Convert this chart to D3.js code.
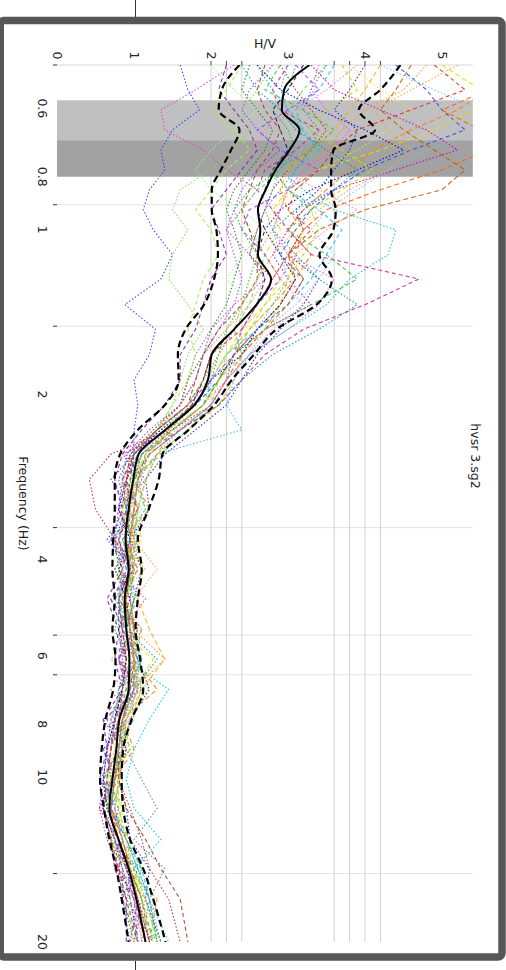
<!DOCTYPE html>
<html><head><meta charset="utf-8">
<script src="https://cdn.jsdelivr.net/npm/d3@7"></script>
<style>html,body{margin:0;padding:0;background:#fff;}svg{display:block;}</style>
</head><body>
<svg id="chart" width="506" height="970"></svg>
<script>
// ---------- data ----------
const frequencies = [0.5,0.555,0.604,0.657,0.715,0.777,0.845,0.919,1.0,1.11,1.23,1.37,1.52,1.69,1.88,2.09,2.32,2.57,2.86,3.24,3.68,4.17,4.73,5.37,6.09,6.91,7.84,8.89,10.1,11.4,13.0,14.7,16.7,20];
const meanHV  = [3.28,2.95,2.92,3.15,3.02,2.84,2.71,2.61,2.64,2.61,2.78,2.59,2.30,2.01,1.96,1.78,1.41,1.06,0.99,0.93,0.89,0.93,0.88,0.90,0.94,0.93,0.81,0.77,0.72,0.68,0.80,0.93,1.03,1.15];
const upperHV = [4.46,4.20,3.92,4.13,3.59,3.56,3.56,3.62,3.59,3.41,3.57,3.37,2.85,2.56,2.27,2.04,1.71,1.37,1.32,1.19,1.05,1.10,1.05,1.02,1.08,1.12,0.97,0.86,0.84,0.86,0.95,1.12,1.25,1.41];
const lowerHV = [2.37,2.14,2.10,2.37,2.26,2.13,2.01,2.01,2.07,2.09,2.04,1.91,1.67,1.57,1.58,1.40,1.05,0.82,0.75,0.75,0.73,0.72,0.75,0.72,0.76,0.73,0.63,0.58,0.56,0.61,0.68,0.77,0.84,0.93];
const windowCurves = [
 [1.6,1.7,1.85,1.5,1.35,1.4,1.2,1.12,1.25,1.5,1.35,0.88,1.28,1.2,1.0,1.05,1.0,1.0,0.7,0.95,0.65,1.0,0.75,1.05,0.8,1.1,0.6,0.85,0.55,0.8,0.7,1.05,0.9,1.25],
 [2.3,1.8,1.35,1.4,1.9,2.2,2.6,2.4,2.2,2.5,2.7,2.3,2.0,1.8,1.7,1.6,1.3,0.9,1.1,0.75,1.05,0.8,1.15,0.85,1.0,0.7,0.95,0.6,0.8,0.55,0.95,0.8,1.15,1.0],
 [2.8,2.6,2.4,2.5,2.3,2.0,1.6,1.5,1.7,1.5,1.45,1.7,1.9,1.7,1.6,1.5,1.3,1.2,0.85,1.1,0.8,1.15,0.75,1.0,0.7,1.2,0.8,0.95,0.6,0.9,0.65,1.1,0.9,1.3],
 [5.5,5.6,5.2,4.6,4.1,3.8,3.5,3.2,3.0,3.3,3.1,2.8,2.5,2.3,2.1,1.9,1.5,1.3,1.0,1.2,0.85,1.05,0.8,1.1,1.0,1.3,0.85,1.0,0.75,0.7,0.95,0.9,1.3,1.2],
 [4.4,4.8,5.0,5.3,4.6,4.0,3.6,3.3,3.1,2.9,3.2,3.0,2.6,2.3,2.1,1.8,1.4,1.0,0.85,1.05,0.7,0.95,0.7,0.85,1.05,0.8,0.9,0.6,0.75,0.6,0.75,1.0,0.85,1.05],
 [5.0,5.5,5.4,4.9,4.2,3.4,3.0,2.8,2.9,2.7,2.9,2.7,2.4,2.2,2.0,1.8,1.45,1.2,0.95,1.0,1.1,0.8,1.05,0.8,1.25,1.0,0.8,0.95,0.65,0.85,0.7,0.9,1.15,1.35],
 [3.3,3.6,4.2,4.8,5.2,4.4,3.6,3.2,3.0,2.8,3.0,3.3,2.7,2.3,2.2,2.0,1.5,0.85,1.15,0.8,1.0,0.75,0.95,1.0,0.8,1.05,0.7,0.9,0.7,0.55,0.8,0.75,1.05,0.95],
 [2.6,2.8,3.0,3.2,3.0,2.9,3.2,3.6,4.4,4.3,3.8,3.5,3.0,2.5,2.2,2.0,1.6,1.3,1.05,1.15,0.85,1.0,0.8,1.1,0.9,1.45,1.2,1.0,0.9,1.0,1.35,1.0,1.2,1.45],
 [3.0,2.8,2.9,3.4,3.1,2.7,2.6,2.8,3.0,3.3,4.7,4.0,3.2,2.7,2.4,2.1,1.6,1.1,0.9,1.05,0.75,1.0,0.7,0.95,0.8,0.9,0.65,0.8,0.6,0.75,0.85,0.8,1.0,1.15],
 [3.5,3.2,3.0,3.3,3.4,3.0,2.6,2.4,2.5,2.7,2.6,2.5,2.3,2.4,2.1,2.0,1.7,1.35,1.0,1.15,0.9,1.05,0.85,1.0,1.1,1.0,0.85,0.95,0.7,0.8,0.9,1.1,1.0,1.3],
 [2.9,3.1,3.3,3.5,3.3,3.0,2.8,2.7,2.6,2.5,2.8,2.6,2.3,2.0,1.9,1.75,1.45,0.7,0.42,0.5,0.75,0.95,0.8,1.05,0.85,1.0,0.75,0.9,0.8,0.95,1.1,1.2,1.45,1.6],
 [3.1,3.0,2.8,3.0,3.1,2.9,2.5,2.3,2.4,2.6,2.5,2.4,2.2,2.1,1.9,1.7,1.35,0.95,1.05,0.8,0.95,0.75,0.9,0.8,1.0,0.85,0.7,0.8,0.6,0.65,0.8,0.95,1.1,1.0],
 [4.0,3.8,3.6,3.9,3.8,3.6,3.4,3.1,3.2,3.0,3.4,3.2,2.9,2.6,2.4,2.2,1.8,1.4,1.15,1.2,0.95,1.1,1.0,0.9,1.05,1.2,0.95,0.85,0.8,0.9,0.95,1.2,1.15,1.35],
 [2.2,2.1,2.3,2.5,2.6,2.4,2.2,2.0,2.1,2.2,2.0,1.9,1.8,1.6,1.6,1.4,1.1,0.85,0.75,0.85,0.7,0.85,0.65,0.8,0.75,0.85,0.6,0.65,0.55,0.6,0.7,0.75,0.9,0.9],
 [3.6,3.4,3.1,3.2,3.4,3.1,3.0,3.4,3.7,3.5,3.3,3.0,2.6,2.2,2.0,1.9,1.5,1.1,1.0,0.9,1.05,0.9,1.05,0.85,1.1,0.95,1.0,0.75,0.85,0.7,0.9,1.1,1.2,1.3],
 [4.8,4.5,4.0,3.7,3.5,3.3,3.0,2.9,2.8,2.6,2.7,2.5,2.2,1.9,1.8,1.6,1.3,1.0,0.85,0.95,0.9,1.0,0.9,1.0,1.4,1.0,0.85,0.8,0.7,0.7,0.75,0.9,1.05,1.1],
 [3.8,4.2,4.6,4.3,3.9,3.4,3.1,2.8,2.7,2.9,3.1,2.8,2.5,2.2,2.0,1.8,1.4,1.05,1.1,0.85,1.0,0.85,0.9,0.95,0.85,1.05,0.9,0.7,0.85,0.65,0.85,1.0,1.1,1.25],
 [3.2,3.0,2.8,2.9,3.0,2.8,2.7,2.6,2.7,2.6,2.7,2.6,2.3,2.0,1.9,1.75,1.4,1.05,0.9,0.95,0.8,0.95,0.8,0.85,0.9,0.85,0.75,0.7,0.65,0.6,0.75,0.85,0.95,1.05],
 [2.5,2.4,2.6,2.8,2.7,2.5,2.3,2.2,2.3,2.4,2.3,2.2,2.0,1.9,1.7,1.6,1.25,0.95,0.8,0.9,0.75,0.8,0.85,0.75,0.9,0.8,0.75,0.65,0.7,0.6,0.7,0.85,0.85,1.0],
 [3.4,3.3,3.5,3.8,3.6,3.2,3.0,2.9,2.8,3.0,3.6,3.4,3.0,2.5,2.2,2.0,1.6,1.2,0.95,1.05,0.9,1.05,0.85,0.95,1.0,1.05,0.85,0.85,0.75,0.7,0.85,0.95,1.05,1.2],
 [2.4,2.2,2.0,2.3,2.5,2.2,2.0,1.8,2.0,2.1,1.9,1.8,1.7,1.8,1.7,1.5,1.3,1.0,0.85,0.9,0.8,0.8,0.85,0.8,0.85,0.9,0.75,0.7,0.65,0.6,0.7,0.8,0.9,1.0],
 [3.0,2.9,3.0,3.2,3.1,2.9,2.8,2.7,2.8,2.9,3.0,2.8,2.6,2.4,2.3,2.2,2.4,1.3,1.15,1.05,1.0,1.0,0.95,1.0,1.05,1.05,0.9,0.85,0.8,0.75,0.9,1.05,1.2,1.35],
 [2.7,2.6,2.7,2.9,2.8,2.6,2.5,2.4,2.5,2.6,2.6,2.4,2.1,1.9,1.8,1.7,1.3,1.0,0.95,0.9,0.9,0.95,0.9,0.95,1.0,0.95,0.85,0.8,0.8,0.9,1.15,1.35,1.6,1.7],
 [3.5,3.3,3.2,3.4,3.3,3.1,2.9,2.7,2.6,2.5,2.7,2.6,2.3,2.1,2.0,1.8,1.45,1.1,1.0,0.95,0.9,0.95,0.9,0.9,0.95,0.95,0.85,0.9,1.1,1.3,1.0,1.4,1.2,1.1],
 [4.2,4.0,3.8,3.6,3.3,3.0,2.9,3.0,3.2,3.1,3.0,2.9,2.7,2.4,2.3,2.1,1.7,1.3,1.15,1.05,1.0,1.1,1.05,1.2,1.4,1.1,0.95,0.85,0.8,0.75,0.85,0.95,1.05,1.15],
 [2.8,2.5,2.4,2.6,2.9,2.6,2.4,2.3,2.2,2.3,2.4,2.3,2.1,1.9,1.8,1.6,1.2,0.9,0.85,0.8,0.75,0.85,0.8,0.8,0.85,0.85,0.7,0.65,0.6,0.55,0.65,0.8,0.85,0.95],
 [5.8,5.6,5.0,5.5,5.6,5.0,4.2,3.5,3.2,3.0,3.2,3.0,2.7,2.4,2.2,2.0,1.6,1.2,1.05,1.0,0.95,1.0,0.95,1.0,1.0,1.0,0.85,0.8,0.75,0.7,0.8,0.95,1.1,1.2],
 [4.6,4.4,4.2,4.5,4.9,5.3,5.0,4.0,3.4,3.0,3.1,2.9,2.6,2.3,2.1,1.9,1.5,1.15,1.05,1.0,0.95,0.95,0.9,0.95,1.0,1.0,0.85,0.8,0.75,0.7,0.85,0.95,1.05,1.15],
 [4.2,4.9,5.5,5.6,4.8,4.3,3.9,3.5,3.3,3.6,3.4,3.1,2.7,2.5,2.3,2.0,1.55,1.15,1.1,0.95,1.05,0.9,1.0,0.85,1.05,1.0,0.85,0.8,0.7,0.75,0.85,1.0,1.15,1.3],
 [2.9,2.7,3.2,3.6,3.3,2.8,3.0,3.3,3.0,3.5,3.9,3.3,2.7,2.3,2.1,1.9,1.5,1.1,0.95,1.05,0.85,1.0,0.85,0.95,1.1,0.9,0.8,0.85,0.7,0.65,0.8,0.95,1.1,1.25],
 [3.9,3.5,3.1,2.7,2.5,2.9,3.4,3.9,3.5,3.1,2.9,3.2,2.8,2.5,2.2,1.9,1.45,1.05,0.85,1.0,0.8,0.95,0.85,1.0,0.85,0.95,0.75,0.7,0.7,0.6,0.75,0.85,1.0,1.1],
 [2.6,2.9,3.4,4.0,4.5,3.9,3.3,2.9,2.7,2.9,3.1,2.9,2.6,2.4,2.0,1.8,1.35,1.0,0.9,0.8,0.95,0.8,0.95,0.8,0.9,0.85,0.75,0.65,0.6,0.65,0.8,0.9,1.05,1.2],
 [3.7,3.9,3.5,3.3,3.7,4.1,3.7,3.3,3.4,3.2,3.0,2.7,2.5,2.2,2.1,1.9,1.5,1.15,1.0,0.95,1.0,1.0,0.9,1.05,1.0,1.1,0.9,0.85,0.8,0.8,0.9,1.0,1.15,1.3],
 [5.2,4.6,4.1,4.3,4.6,4.3,3.8,3.4,3.1,2.8,2.6,2.4,2.3,2.1,1.95,1.75,1.4,1.05,0.9,0.95,1.0,1.3,1.0,0.95,1.0,1.05,0.9,0.8,0.75,0.7,0.8,0.95,1.05,1.2],
 [2.4,2.6,2.9,3.1,3.5,3.9,3.6,3.1,2.8,3.1,3.4,3.9,3.4,2.8,2.4,2.1,1.6,1.2,1.0,0.9,0.95,0.85,1.0,0.9,1.3,1.0,0.8,0.85,0.75,0.7,0.9,1.05,1.2,1.3],
 [3.1,3.4,3.0,2.6,2.9,3.4,3.0,2.5,2.4,2.7,2.9,2.6,2.4,2.3,2.0,1.7,1.3,1.0,0.85,0.9,0.8,0.9,0.8,0.85,0.8,0.95,0.75,0.7,0.65,0.7,0.75,0.9,1.0,1.05],
 [4.9,5.3,4.6,3.9,3.6,3.4,3.1,3.0,3.3,3.0,2.8,2.6,2.4,2.0,1.9,1.7,1.3,0.95,0.9,0.85,0.9,0.85,0.9,0.85,0.9,0.85,0.8,0.7,0.65,0.6,0.7,0.8,0.9,1.05],
 [2.0,2.3,2.6,2.3,2.0,1.8,2.0,2.4,2.7,2.4,2.2,2.5,2.6,2.2,1.9,1.7,1.4,1.05,0.95,0.85,0.9,0.85,0.8,0.9,0.95,0.85,0.7,0.75,0.65,0.65,0.75,0.85,0.95,1.05]
];
const windowColors = ['#2040ff','#e040c0','#80e040','#ff8000','#3050e0','#e8e000','#c000c0','#00c8c8','#d020a0','#60e060','#c02020','#00d000','#2020b0','#8020a0','#20c0ff','#ff9030','#f0e040','#101080','#108010','#ff50ff','#a8f040','#40b0ff','#a04020','#6080a0','#ffb000','#9040ff','#ff6000','#c06000','#80c0ff','#40c040','#ff80c0','#0000c0','#c0e000','#ffa040','#00a0a0','#a040ff','#e03030','#90ff90'];
const windowDashes = ['1.5,2','1.5,2','1.5,2','5,3','4,3','5,3','1.5,2','1.5,2','4,3','4,3','1.5,2','1.5,2','1.5,2','4,3','4,3','1.5,2','1.5,2','4,3','1.5,2','1.5,2','4,3','1.5,2','4,3','1.5,2','5,3','1.5,2','5,3','5,3','1.5,2','4,3','1.5,2','1.5,2','4,3','1.5,2','1.5,2','4,3','4,3','1.5,2'];
const freqTickLabels = [0.6,0.8,1,2,4,6,8,10,20];
const hvTickLabels = [0,1,2,3,4,5];
const freqGrid = [0.9,1.5,3.5,5.5,6.5,15];
const hvGrid = [2.0,2.2,2.4,3.6,3.8,4.0,4.2];
const bandLight = [0.58,0.686];
const bandDark = [0.686,0.80];
const chartTitle = 'hvsr 3.sg2';
const xTitle = 'Frequency (Hz)';
const yTitle = 'H/V';

// ---------- drawing ----------
const svg = d3.select('#chart');
const FONT = 'DejaVu Sans, Verdana, sans-serif';

svg.append('line').attr('x1',135.5).attr('x2',135.5).attr('y1',0).attr('y2',17).attr('stroke','#333').attr('stroke-width',1);
svg.append('line').attr('x1',135.5).attr('x2',135.5).attr('y1',961).attr('y2',970).attr('stroke','#333').attr('stroke-width',1);
svg.append('rect').attr('x',0.25).attr('y',20.5).attr('width',501.75).attr('height',936.5).attr('rx',4)
  .attr('fill','#fff').attr('stroke','#575757').attr('stroke-width',7.5);

// chart drawn in its own orientation, then turned a quarter clockwise
const g = svg.append('g').attr('transform','translate(506,0) rotate(90)');
const x = d3.scaleLog().domain([0.5,20]).range([65,942]);
const y = d3.scaleLinear().domain([0,5.4]).range([449,33.2]);

g.append('clipPath').attr('id','plotclip').append('rect')
  .attr('x',65).attr('y',y(5.4)).attr('width',942-65).attr('height',y(0)-y(5.4));

g.selectAll('.fgrid').data(freqGrid).join('line')
  .attr('x1',d=>x(d)).attr('x2',d=>x(d)).attr('y1',y(0)).attr('y2',y(5.4))
  .attr('stroke','#e3e3e3').attr('stroke-width',1);
g.selectAll('.hgrid').data(hvGrid).join('line')
  .attr('x1',65).attr('x2',942).attr('y1',d=>y(d)).attr('y2',d=>y(d))
  .attr('stroke','#d2d2d2').attr('stroke-width',1);
g.append('line').attr('x1',65).attr('x2',65).attr('y1',y(0)).attr('y2',y(5.4)).attr('stroke','#d8d8d8');

g.append('rect').attr('x',x(bandLight[0])).attr('width',x(bandLight[1])-x(bandLight[0]))
  .attr('y',y(5.4)).attr('height',y(0)-y(5.4)).attr('fill','#c0c0c0');
g.append('rect').attr('x',x(bandDark[0])).attr('width',x(bandDark[1])-x(bandDark[0]))
  .attr('y',y(5.4)).attr('height',y(0)-y(5.4)).attr('fill','#a2a2a2');

g.selectAll('.ftick').data([0.5].concat(freqGrid)).join('line')
  .attr('x1',d=>x(d)).attr('x2',d=>x(d)).attr('y1',y(0)).attr('y2',y(0)+4)
  .attr('stroke','#333');
g.selectAll('.htick').data(hvGrid).join('line')
  .attr('x1',61).attr('x2',65).attr('y1',d=>y(d)).attr('y2',d=>y(d))
  .attr('stroke','#444');

const plot = g.append('g').attr('clip-path','url(#plotclip)');
const lineW = d3.line().x((d,i)=>x(frequencies[i])).y(d=>y(d));
windowCurves.forEach((c,i)=>{
  plot.append('path').attr('d',lineW(c)).attr('fill','none')
    .attr('stroke',windowColors[i % windowColors.length])
    .attr('stroke-width',1.1).attr('stroke-dasharray',windowDashes[i % windowDashes.length])
    .attr('opacity',0.9);
});
const lineS = d3.line().x((d,i)=>x(frequencies[i])).y(d=>y(d)).curve(d3.curveMonotoneX);
[upperHV,lowerHV].forEach(c=>{
  plot.append('path').attr('d',lineS(c)).attr('fill','none').attr('stroke','#000')
    .attr('stroke-width',2.2).attr('stroke-dasharray','7,4');
});
plot.append('path').attr('d',lineS(meanHV)).attr('fill','none').attr('stroke','#000').attr('stroke-width',2);

g.selectAll('.flab').data(freqTickLabels).join('text')
  .attr('x',d=>x(d)).attr('y',468).attr('text-anchor','middle')
  .attr('font-family',FONT).attr('font-size',12.5).attr('fill','#222').text(d=>d);
g.selectAll('.hlab').data(hvTickLabels).join('text')
  .attr('x',59.5).attr('y',d=>y(d)).attr('dy','0.35em').attr('text-anchor','end')
  .attr('font-family',FONT).attr('font-size',12.5).attr('fill','#222').text(d=>d);
g.append('text').attr('transform','translate(48,241) rotate(-90)').attr('text-anchor','middle')
  .attr('font-family',FONT).attr('font-size',12.5).attr('fill','#222').text(yTitle);
g.append('text').attr('x',503.5).attr('y',487).attr('text-anchor','middle')
  .attr('font-family',FONT).attr('font-size',12.5).attr('fill','#222').text(xTitle);
g.append('text').attr('x',456).attr('y',35).attr('text-anchor','middle')
  .attr('font-family',FONT).attr('font-size',12.5).attr('fill','#222').text(chartTitle);
</script>
</body></html>
